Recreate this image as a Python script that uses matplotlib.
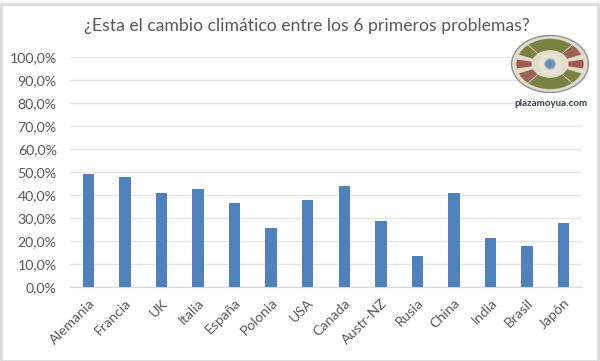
import matplotlib
matplotlib.use("Agg")
import matplotlib.pyplot as plt
from matplotlib.patches import Wedge, Ellipse, Rectangle, Circle

categories = ["Alemania", "Francia", "UK", "Italia", "España", "Polonia", "USA", "Canada",
              "Austr-NZ", "Rusia", "China", "India", "Brasil", "Japón"]
values = [49, 48, 41, 42.5, 36.5, 25.5, 38, 44, 28.5, 13.5, 41, 21.5, 18, 28]
yticks = list(range(0, 101, 10))
ytick_labels = [f"{v},0%" for v in yticks]
title = "¿Esta el cambio climático entre los 6 primeros problemas?"
logo_text = "plazamoyua.com"

W, H = 600, 361
plt.rcParams["font.family"] = ["Lato", "DejaVu Sans"]
fig = plt.figure(figsize=(W / 100, H / 100), dpi=100, facecolor="white")
fig.add_artist(Rectangle((0.5 / W, 0.5 / H), (W - 3) / W, (H - 4) / H, transform=fig.transFigure,
                         fill=False, ec="#dcdcdc", lw=2))

ax = fig.add_axes([70 / W, (H - 287) / H, 512 / W, 230 / H])
ax.bar(range(len(values)), values, width=0.31, color="#4f81bd", zorder=3)
ax.set_xlim(-0.5, len(values) - 0.5)
ax.set_ylim(0, 100)
ax.set_yticks(yticks, ytick_labels)
ax.set_xticks(range(len(categories)), categories, rotation=45, ha="right", rotation_mode="anchor")
ax.grid(axis="y", color="#e4e4e4", lw=1, zorder=0)
ax.tick_params(length=0, labelsize=10.2, labelcolor="#595959")
ax.tick_params(axis="y", pad=9.5)
ax.tick_params(axis="x", pad=7)
for s in ["top", "right", "left"]:
    ax.spines[s].set_visible(False)
ax.spines["bottom"].set_color("#d9d9d9")

fig.text(307 / W, (H - 26) / H, title, ha="center", va="center", fontsize=12.7, color="#595959")

# logo
lx = fig.add_axes([510 / W, (H - 94) / H, 80 / W, 60 / H])
lx.set_xlim(-1, 1); lx.set_ylim(-1, 1); lx.axis("off")
lx.add_patch(Ellipse((0, 0), 1.92, 1.9, fc="#e2dccb", ec="#8f8fa0", lw=1))
segs = [(50, 130, "#7a8142"), (22, 48, "#9a6353"), (-10, 10, "#a25a4e"), (-48, -22, "#7a8142"),
        (-130, -50, "#7a8142"), (-158, -132, "#9a6353"), (170, 190, "#a25a4e"), (132, 158, "#7a8142")]
for a, b, c in segs:
    lx.add_patch(Wedge((0, 0), 0.84, a, b, width=0.38, fc=c, ec="none", zorder=2))
lx.add_patch(Ellipse((0, 0), 0.56, 0.7, fc="#e9e4d6", ec="none", zorder=3))
lx.add_patch(Ellipse((0, 0), 0.26, 0.34, fc="#5f8fb8", ec="#aab4bd", lw=1, zorder=4))
fig.text(550.5 / W, (H - 104) / H, logo_text, ha="center", va="center", fontsize=7,
         fontweight="bold", color="#3c4450")

fig.savefig("out.png", dpi=100)
